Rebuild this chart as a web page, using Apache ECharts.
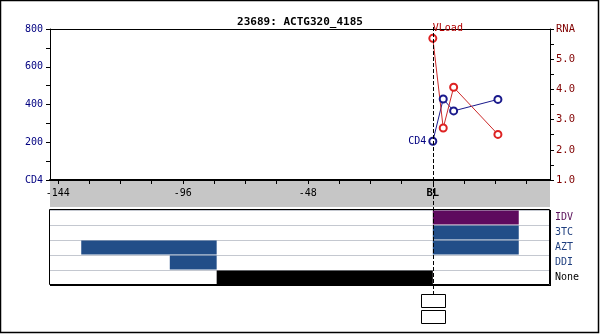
<!DOCTYPE html>
<html><head><meta charset="utf-8">
<script src="https://cdn.jsdelivr.net/npm/echarts@6/dist/echarts.min.js"></script>
<style>html,body{margin:0;padding:0;background:#fff}#c{width:600px;height:334px}</style>
</head><body><div id="c"></div>
<script>
const chartTitle = '23689: ACTG320_4185';
const cd4Weeks = [0, 4, 8, 25];
const cd4Values = [205, 429, 366, 427];
const rnaWeeks = [0, 4, 8, 25];
const rnaValues = [5.69, 2.72, 4.07, 2.51];
const drugRows = ['IDV', '3TC', 'AZT', 'DDI', 'None'];
const drugLabelColors = ['#5a105a', '#1f3f7f', '#1f3f7f', '#1f3f7f', '#000000'];
const drugBarColors = ['#5e0a5e', '#224e88', '#224e88', '#224e88', '#000000'];
const regimenDrug = ['AZT', 'DDI', 'None', 'IDV', '3TC', 'AZT'];
const regimenStart = [-135, -101, -83, 0, 0, 0];
const regimenEnd = [-83, -83, 0, 33, 33, 33];
const xTickValues = [-144, -132, -120, -108, -96, -84, -72, -60, -48, -36, -24, -12, 0, 12, 24, 36];
const xLabelValues = [-144, -96, -48, 0];
const cd4TickValues = [0, 100, 200, 300, 400, 500, 600, 700, 800];
const cd4LabelValues = [0, 200, 400, 600, 800];
const rnaTickValues = [1, 1.5, 2, 2.5, 3, 3.5, 4, 4.5, 5, 5.5, 6];
const rnaLabelValues = [1, 2, 3, 4, 5, 6];
const X_MIN = -147, X_MAX = 45;

const mono = 'DejaVu Sans Mono';
const chart = echarts.init(document.getElementById('c'), null, {renderer: 'canvas'});
const regimenData = regimenDrug.map((d, i) => [d, regimenStart[i], regimenEnd[i]]);

chart.setOption({
  animation: false,
  backgroundColor: '#ffffff',
  title: {text: chartTitle, left: 'center', top: 12,
    textStyle: {fontFamily: mono, fontWeight: 'bold', fontSize: 11, color: '#000'}},
  grid: [
    {left: 50, top: 29, width: 500, height: 151},
    {left: 50, top: 210, width: 500, height: 75},
    {left: 50, top: 181, width: 500, height: 26, show: true, backgroundColor: '#c6c6c6', borderWidth: 0, z: -1}
  ],
  xAxis: [
    {type: 'value', gridIndex: 0, min: X_MIN, max: X_MAX, position: 'bottom', z: 10,
      axisLine: {onZero: false, lineStyle: {color: '#000', width: 2}},
      axisTick: {show: true, inside: false, length: 4, lineStyle: {color: '#000', width: 1}, customValues: xTickValues},
      axisLabel: {customValues: xLabelValues, margin: 8, color: '#000', fontFamily: mono, fontSize: 10,
        formatter: v => v === 0 ? '{b|BL}' : String(v),
        rich: {b: {fontWeight: 'bold', fontFamily: mono, fontSize: 10.5, color: '#000'}}},
      splitLine: {show: false}},
    {type: 'value', gridIndex: 0, min: X_MIN, max: X_MAX, position: 'top',
      axisLine: {show: true, onZero: false, lineStyle: {color: '#000', width: 1}},
      axisTick: {show: false}, axisLabel: {show: false}, splitLine: {show: false}},
    {type: 'value', gridIndex: 1, min: X_MIN, max: X_MAX, show: false, splitLine: {show: false}},
    {type: 'value', gridIndex: 2, min: X_MIN, max: X_MAX, show: false, splitLine: {show: false}}
  ],
  yAxis: [
    {type: 'value', gridIndex: 0, min: 0, max: 800, position: 'left', z: 10,
      axisLine: {show: true, onZero: false, lineStyle: {color: '#000', width: 1}},
      axisTick: {show: true, length: 4, lineStyle: {color: '#000'}, customValues: cd4TickValues},
      axisLabel: {customValues: cd4LabelValues, margin: 7, color: '#000080', fontFamily: mono, fontSize: 10,
        formatter: v => v === 0 ? 'CD4' : String(v)},
      splitLine: {show: false}},
    {type: 'value', gridIndex: 0, min: 1, max: 6, position: 'right', z: 10,
      axisLine: {show: true, onZero: false, lineStyle: {color: '#000', width: 1}},
      axisTick: {show: true, length: 4, lineStyle: {color: '#000'}, customValues: rnaTickValues},
      axisLabel: {customValues: rnaLabelValues, margin: 6, color: '#800000', fontFamily: mono, fontSize: 10.5,
        formatter: v => v === 6 ? 'RNA' : v.toFixed(1)},
      splitLine: {show: false}},
    {type: 'category', gridIndex: 1, data: drugRows, inverse: true, position: 'right',
      axisLine: {show: false, onZero: false}, axisTick: {show: false},
      axisLabel: {margin: 5, fontFamily: mono, fontSize: 10, color: (v, i) => drugLabelColors[drugRows.indexOf(v)]},
      splitLine: {show: true, lineStyle: {color: '#c4c8d0', width: 1}}},
    {type: 'value', gridIndex: 2, show: false, splitLine: {show: false}}
  ],
  series: [
    {type: 'custom', xAxisIndex: 2, yAxisIndex: 2, encode: {x: [1, 2], y: 0}, data: regimenData,
      renderItem: (params, api) => {
        const row = api.value(0);
        const p1 = api.coord([api.value(1), row]);
        const p2 = api.coord([api.value(2), row]);
        const h = api.size([0, 1])[1];
        return {type: 'rect', shape: {x: p1[0], y: p1[1] - h / 2 + 0.5, width: p2[0] - p1[0], height: h - 1},
          style: {fill: drugBarColors[row]}};
      }},
    {type: 'line', name: 'CD4', xAxisIndex: 0, yAxisIndex: 0,
      data: cd4Weeks.map((w, i) => [w, cd4Values[i]]),
      symbol: 'emptyCircle', symbolSize: 7, showAllSymbol: true,
      lineStyle: {color: '#1a1a8c', width: 1}, itemStyle: {color: '#1a1a8c', borderColor: '#1a1a8c', borderWidth: 1},
      label: {show: true, position: 'left', distance: 2, fontFamily: mono, fontSize: 10, color: '#000080',
        formatter: p => p.dataIndex === 0 ? 'CD4' : ''}},
    {type: 'line', name: 'VLoad', xAxisIndex: 0, yAxisIndex: 1,
      data: rnaWeeks.map((w, i) => [w, rnaValues[i]]),
      symbol: 'emptyCircle', symbolSize: 7, showAllSymbol: true,
      lineStyle: {color: '#cc2a2a', width: 1}, itemStyle: {color: '#dd2222', borderColor: '#dd2222', borderWidth: 1},
      label: {show: true, position: 'top', align: 'left', distance: 0, fontFamily: mono, fontSize: 10, color: '#b00000',
        formatter: p => p.dataIndex === 0 ? 'VLoad' : ''}}
  ]
});

const bx = Math.round(chart.convertToPixel({xAxisIndex: 0}, 0)) + 0.5;
chart.setOption({
  graphic: [
    {type: 'rect', z: 100, silent: true, shape: {x: 49.5, y: 209.5, width: 500, height: 75}, style: {fill: 'none', stroke: '#000', lineWidth: 1}},
    {type: 'line', z: 100, silent: true, shape: {x1: 50, y1: 285.5, x2: 551, y2: 285.5}, style: {stroke: '#000', lineWidth: 1}},
    {type: 'line', z: 100, silent: true, shape: {x1: 550.5, y1: 210, x2: 550.5, y2: 286}, style: {stroke: '#000', lineWidth: 1}},
    {type: 'line', z: 101, silent: true, shape: {x1: bx, y1: 27, x2: bx, y2: 294}, style: {stroke: '#000', lineWidth: 1, lineDash: [4, 2]}},
    {type: 'rect', z: 100, silent: true, shape: {x: bx - 12, y: 294.5, width: 24, height: 13}, style: {fill: '#fff', stroke: '#000', lineWidth: 1}},
    {type: 'rect', z: 100, silent: true, shape: {x: bx - 12, y: 310.5, width: 24, height: 13}, style: {fill: '#fff', stroke: '#000', lineWidth: 1}},
    {type: 'rect', z: 100, silent: true, shape: {x: 0.5, y: 0.5, width: 598, height: 332}, style: {fill: 'none', stroke: '#000', lineWidth: 1.5}}
  ]
});
</script></body></html>
